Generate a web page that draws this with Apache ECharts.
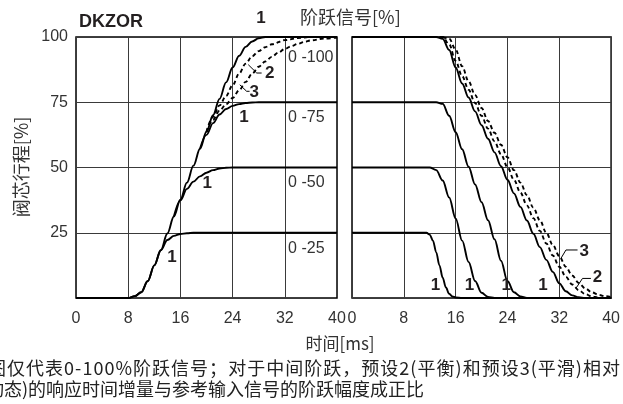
<!DOCTYPE html>
<html><head><meta charset="utf-8">
<script src="https://cdn.jsdelivr.net/npm/echarts@6/dist/echarts.min.js"></script>
<style>html,body{margin:0;padding:0;background:#fff}#c{width:623px;height:404px}</style>
</head><body><div id="c"></div>
<script>
// ---- data (time in ms, spool stroke in %) ----
const xTicks = [0, 8, 16, 24, 32, 40];
const yTicks = [0, 25, 50, 75, 100];
const stepLabels = ['0 -100', '0 -75', '0 -50', '0 -25'];

// left panel: step up
const upT100 = [0, 8, 9, 10, 11, 12, 13, 14, 15, 16, 17, 18, 19, 20, 21, 22, 23, 24, 25, 26, 27, 28, 29, 40];
const up100  = [0, 0, 0.7, 2.2, 6.5, 12.5, 18.3, 24.7, 31.2, 37.7, 44.2, 50.7, 57.2, 63.7, 70, 76.3, 82.6, 88.3, 92.8, 96.2, 98.3, 99.5, 100, 100];
const upT100p2 = [20, 21, 22, 23, 24, 25, 26, 27, 28, 29, 30, 32, 34, 36, 40];
const up100p2  = [63.7, 69.4, 73.8, 77.4, 81.5, 86, 89.8, 92.6, 94.6, 96.1, 97.2, 98.8, 99.6, 100, 100];
const upT100p3 = [20, 21, 22, 23, 24, 25, 26, 27, 28, 29, 30, 31, 32, 33, 34, 35, 36, 38, 40];
const up100p3  = [63.7, 68.3, 71.8, 74.2, 76.6, 79.6, 82.8, 86, 88.6, 90.6, 92.4, 94, 95.4, 96.5, 97.4, 98.1, 98.7, 99.4, 99.8];
const upT75 = [19, 20, 21, 22, 23, 24, 25, 26, 27, 28, 40];
const up75  = [57.2, 62.5, 67, 70.3, 72.4, 73.6, 74.3, 74.7, 74.9, 75, 75];
const upT50 = [15, 16, 17, 18, 19, 20, 21, 22, 23, 24, 40];
const up50  = [31.2, 37.4, 41.8, 44.6, 46.6, 48, 49, 49.6, 49.9, 50, 50];
const upT25 = [0, 8, 9, 10, 11, 12, 13, 14, 15, 16, 17, 18, 19, 40];
const up25  = [0, 0, 0.7, 2.2, 6.5, 12.5, 18.3, 22.2, 23.8, 24.5, 24.8, 25, 25, 25];

// right panel: step down
const dnT100 = [0, 13, 14, 15, 16, 17, 18, 19, 20, 21, 22, 23, 24, 25, 26, 27, 28, 29, 30, 31, 32, 33, 34, 35, 36, 40];
const dn100  = [100, 100, 99.3, 95, 88.3, 82.2, 76.8, 71.5, 66.2, 61, 55.8, 50.5, 45.3, 40.1, 34.9, 29.7, 24.6, 19.5, 14.6, 10, 5.6, 2.6, 1, 0.3, 0, 0];
const dnT100p2 = [13.5, 14, 15, 16, 17, 18, 19, 20, 21, 22, 23, 24, 25, 26, 27, 28, 29, 30, 31, 32, 33, 34, 35, 36, 37, 38, 39, 40];
const dn100p2  = [100, 100, 97.2, 90.8, 85, 79.8, 74.7, 69.8, 64.9, 60, 55.1, 50.2, 45.3, 40.4, 35.5, 30.6, 25.7, 20.9, 16.3, 12, 8.2, 5.2, 3, 1.5, 0.6, 0.2, 0, 0];
const dnT100p3 = [14, 15, 16, 17, 18, 19, 20, 21, 22, 23, 24, 25, 26, 27, 28, 29, 30, 31, 32, 33, 34, 35, 36, 37, 38, 39, 40];
const dn100p3  = [100, 99.4, 95.2, 88.8, 83, 77.8, 72.8, 67.8, 63.3, 58.7, 53.9, 49, 44.2, 39.4, 34.6, 29.8, 25, 20.3, 16, 12, 8.6, 5.8, 3.7, 2.2, 1.3, 0.7, 0.4];
const dnT75 = [0, 13, 14, 15, 16, 17, 18, 19, 20, 21, 22, 23, 24, 25, 26, 27, 40];
const dn75  = [75, 75, 74.4, 69.8, 63.5, 57, 50.3, 43.5, 36.7, 29.8, 22.5, 14.3, 6.5, 2.2, 0.6, 0, 0];
const dnT50 = [0, 12, 13, 14, 15, 16, 17, 18, 19, 20, 21, 22, 40];
const dn50  = [50, 50, 49, 45, 38.5, 30.5, 22, 13.8, 6.5, 2, 0.4, 0, 0];
const dnT25 = [0, 11.5, 12, 12.5, 13, 13.5, 14, 14.5, 15, 15.5, 16, 17, 40];
const dn25  = [25, 25, 24.3, 22, 17.5, 12.5, 7.8, 4, 1.6, 0.6, 0.2, 0, 0];

// ---- chart ----
const zip = (t, v) => t.map((x, i) => [x, v[i]]);
const LATIN = "'Liberation Sans', Arial, sans-serif";
const CJK = "'Noto Sans CJK SC', sans-serif";
const INK = '#231f20';

const chart = echarts.init(document.getElementById('c'), null, { renderer: 'canvas' });

function line(name, g, t, v, dashed) {
  return {
    name, type: 'line', xAxisIndex: g, yAxisIndex: g, data: zip(t, v),
    showSymbol: false, smooth: 0.35, smoothMonotone: 'x', clip: false, silent: true,
    lineStyle: { color: '#000', width: 1.9, type: dashed ? [4, 3] : 'solid' }, z: 3
  };
}

function xAx(g) {
  return {
    type: 'value', gridIndex: g, min: 0, max: 40, interval: 8,
    axisLine: { show: false }, axisTick: { show: false },
    axisLabel: { fontSize: 16, color: '#333', fontFamily: LATIN, margin: 13 },
    splitLine: { show: true, lineStyle: { color: '#3a3a3a', width: 1 } }
  };
}
function yAx(g) {
  return {
    type: 'value', gridIndex: g, min: 0, max: 100, interval: 25,
    axisLine: { show: false }, axisTick: { show: false },
    axisLabel: { show: g === 0, fontSize: 16, color: '#333', fontFamily: LATIN, margin: 8,
      formatter: v => (v === 0 ? '' : String(v)) },
    splitLine: { show: true, lineStyle: { color: '#3a3a3a', width: 1 } }
  };
}

chart.setOption({
  animation: false,
  backgroundColor: '#fff',
  grid: [
    { left: 76, top: 37, width: 261, height: 261, show: true, borderColor: '#000', borderWidth: 1.5, backgroundColor: 'transparent' },
    { left: 352, top: 37, width: 260, height: 261, show: true, borderColor: '#000', borderWidth: 1.5, backgroundColor: 'transparent' }
  ],
  xAxis: [xAx(0), xAx(1)],
  yAxis: [yAx(0), yAx(1)],
  series: [
    line('up100', 0, upT100, up100, false),
    line('up100p2', 0, upT100p2, up100p2, true),
    line('up100p3', 0, upT100p3, up100p3, true),
    line('up75', 0, upT75, up75, false),
    line('up50', 0, upT50, up50, false),
    line('up25', 0, upT25, up25, false),
    line('dn100', 1, dnT100, dn100, false),
    line('dn100p2', 1, dnT100p2, dn100p2, true),
    line('dn100p3', 1, dnT100p3, dn100p3, true),
    line('dn75', 1, dnT75, dn75, false),
    line('dn50', 1, dnT50, dn50, false),
    line('dn25', 1, dnT25, dn25, false)
  ]
});

// ---- annotations placed in data space ----
const P = (g, t, v) => chart.convertToPixel({ gridIndex: g }, [t, v]);
const tags = [
  [0, '1', 28.35, 107.3], [0, '2', 29.7, 86.0], [0, '3', 27.3, 78.9],
  [0, '1', 25.75, 69.3], [0, '1', 20.1, 44.1], [0, '1', 14.7, 15.7],
  [1, '1', 12.9, 5], [1, '1', 18.15, 5], [1, '1', 23.8, 5], [1, '1', 29.5, 5],
  [1, '3', 35.85, 18.0], [1, '2', 37.9, 7.9]
];
const leaders = [
  [0, [[26.4, 89.4], [27.7, 86.2], [28.45, 86.2]]],
  [0, [[25.1, 81.7], [26.15, 79.2], [26.6, 79.2]]],
  [1, [[32.26, 15.2], [33.03, 18.4], [34.82, 18.4]]],
  [1, [[34.57, 3.7], [35.58, 7.5], [36.88, 7.5]]]
];
const stepPos = [92.1, 69.2, 44.1, 18.8];

const g = [];
tags.forEach(([gi, s, t, v]) => {
  const [x, y] = P(gi, t, v);
  g.push({ type: 'text', x, y, z: 10, style: { text: s, fontSize: 17, fontWeight: 'bold', fill: INK, fontFamily: LATIN, align: 'center', verticalAlign: 'middle' } });
});
leaders.forEach(([gi, pts]) => {
  g.push({ type: 'polyline', z: 10, shape: { points: pts.map(p => P(gi, p[0], p[1])) }, style: { stroke: '#000', lineWidth: 1, fill: null } });
});
stepLabels.forEach((s, i) => {
  const [x, y] = P(0, 32.5, stepPos[i]);
  g.push({ type: 'text', x, y, z: 10, style: { text: s, fontSize: 16, fill: '#333', fontFamily: LATIN, align: 'left', verticalAlign: 'middle' } });
});
// titles and notes
g.push({ type: 'text', x: 79, y: 22, style: { text: 'DKZOR', fontSize: 18, fontWeight: 'bold', fill: INK, fontFamily: LATIN, verticalAlign: 'middle' } });
g.push({ type: 'text', x: 300, y: 17, style: { text: '阶跃信号[%]', fontSize: 18, fill: '#333', fontFamily: CJK, verticalAlign: 'middle' } });
g.push({ type: 'text', x: 21, y: 167, rotation: Math.PI / 2, style: { text: '阀芯行程[%]', fontSize: 18, fill: '#333', fontFamily: CJK, align: 'center', verticalAlign: 'middle' } });
g.push({ type: 'text', x: 340, y: 344, style: { text: '时间[ms]', fontSize: 17, fill: '#333', fontFamily: CJK, align: 'center', verticalAlign: 'middle' } });

// first note line: spread evenly (emulated letter spacing) to span like the reference
(function spaced(text, x0, xEnd, y, size) {
  const ctx = document.createElement('canvas').getContext('2d');
  ctx.font = size + "px 'Noto Sans CJK SC'";
  const chars = Array.from(text);
  const ws = chars.map(c => ctx.measureText(c).width);
  const total = ws.reduce((a, b) => a + b, 0);
  const extra = Math.max(0, (xEnd - x0 - total) / (chars.length - 1));
  let x = x0;
  chars.forEach((c, i) => {
    g.push({ type: 'text', x, y, style: { text: c, fontSize: size, fill: '#222', fontFamily: CJK, verticalAlign: 'middle' } });
    x += ws[i] + extra;
  });
})('图仅代表0-100%阶跃信号；对于中间阶跃，预设2(平衡)和预设3(平滑)相对', -12, 620, 368, 18);
g.push({ type: 'text', x: -14, y: 389, style: { text: '动态)的响应时间增量与参考输入信号的阶跃幅度成正比', fontSize: 18, fill: '#222', fontFamily: CJK, verticalAlign: 'middle' } });

chart.setOption({ graphic: g });
</script>
</body></html>
